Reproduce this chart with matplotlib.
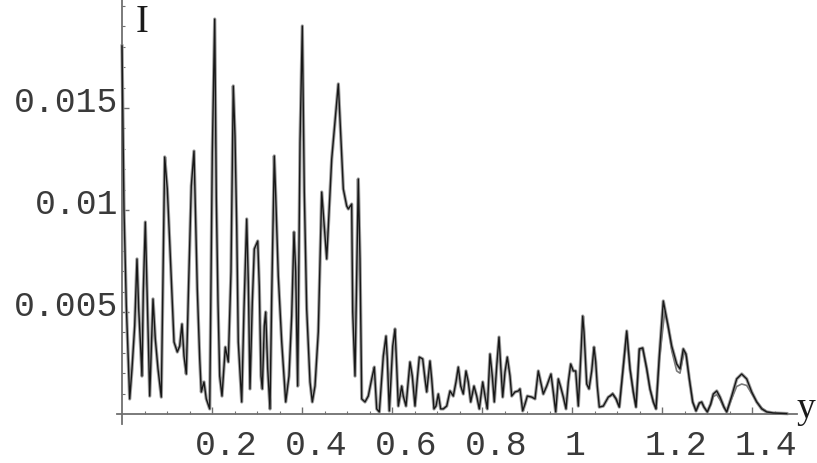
import matplotlib
matplotlib.use('Agg')
import matplotlib.pyplot as plt

# ---- data ----
y_main = [0.0000, 0.0044, 0.0096, 0.0171, 0.0222, 0.0282, 0.0333, 0.0371, 0.0416, 0.0444,
          0.0473, 0.0518, 0.0562, 0.0616, 0.0689, 0.0740, 0.0800, 0.0873, 0.0911, 0.0949,
          0.1007, 0.1060, 0.1111, 0.1156, 0.1229, 0.1282, 0.1333, 0.1378, 0.1429, 0.1482,
          0.1540, 0.1600, 0.1629, 0.1673, 0.1727, 0.1762, 0.1822, 0.1873, 0.1949, 0.2007,
          0.2060, 0.2096, 0.2133, 0.2171, 0.2222, 0.2296, 0.2362, 0.2422, 0.2473, 0.2511,
          0.2549, 0.2584, 0.2660, 0.2711, 0.2771, 0.2807, 0.2844, 0.2896, 0.2940, 0.3016,
          0.3051, 0.3089, 0.3118, 0.3162, 0.3193, 0.3238, 0.3289, 0.3327, 0.3384, 0.3416,
          0.3473, 0.3549, 0.3638, 0.3711, 0.3771, 0.3822, 0.3860, 0.3904, 0.3956, 0.4007,
          0.4051, 0.4104, 0.4178, 0.4229, 0.4289, 0.4362, 0.4438, 0.4549, 0.4660, 0.4807,
          0.4918, 0.4993, 0.5029, 0.5104, 0.5127, 0.5178, 0.5216, 0.5251, 0.5289, 0.5327,
          0.5400, 0.5473, 0.5549, 0.5607, 0.5660, 0.5718, 0.5807, 0.5867, 0.5896, 0.5940,
          0.6016, 0.6067, 0.6104, 0.6140, 0.6216, 0.6251, 0.6311, 0.6400, 0.6451, 0.6511,
          0.6562, 0.6607, 0.6682, 0.6733, 0.6771, 0.6844, 0.6882, 0.6933, 0.6978, 0.7029,
          0.7082, 0.7140, 0.7216, 0.7289, 0.7362, 0.7422, 0.7473, 0.7527, 0.7584, 0.7644,
          0.7696, 0.7749, 0.7822, 0.7882, 0.7940, 0.8016, 0.8067, 0.8118, 0.8178, 0.8229,
          0.8273, 0.8327, 0.8378, 0.8416, 0.8460, 0.8511, 0.8562, 0.8622, 0.8660, 0.8733,
          0.8807, 0.8844, 0.8904, 0.8956, 0.9007, 0.9104, 0.9178, 0.9251, 0.9304, 0.9362,
          0.9438, 0.9533, 0.9584, 0.9638, 0.9696, 0.9749, 0.9807, 0.9867, 0.9918, 0.9971,
          1.0029, 1.0082, 1.0140, 1.0193, 1.0238, 1.0267, 1.0327, 1.0378, 1.0438, 1.0489,
          1.0527, 1.0562, 1.0607, 1.0696, 1.0807, 1.0844, 1.0904, 1.0978, 1.1051, 1.1140,
          1.1216, 1.1289, 1.1362, 1.1422, 1.1496, 1.1571, 1.1660, 1.1733, 1.1807, 1.1867,
          1.1940, 1.2029, 1.2118, 1.2216, 1.2327, 1.2400, 1.2473, 1.2533, 1.2607, 1.2682,
          1.2756, 1.2829, 1.2882, 1.2933, 1.3007, 1.3082, 1.3140, 1.3216, 1.3289, 1.3378,
          1.3438, 1.3549, 1.3660, 1.3771, 1.3882, 1.3993, 1.4104, 1.4216, 1.4327, 1.4473,
          1.4771]
I_main = [0.01804, 0.01005, 0.00529, 0.00074, 0.00221, 0.00431, 0.00760, 0.00515, 0.00319, 0.00186,
          0.00598, 0.00941, 0.00564, 0.00088, 0.00564, 0.00368, 0.00221, 0.00083, 0.00676, 0.01260,
          0.01103, 0.00843, 0.00578, 0.00353, 0.00304, 0.00333, 0.00441, 0.00284, 0.00196, 0.00647,
          0.01118, 0.01289, 0.01020, 0.00613, 0.00270, 0.00108, 0.00157, 0.00074, 0.00025, 0.01284,
          0.01936, 0.01054, 0.00549, 0.00186, 0.00088, 0.00328, 0.00255, 0.00696, 0.01608, 0.01363,
          0.00922, 0.00353, 0.00059, 0.00515, 0.00956, 0.00647, 0.00123, 0.00549, 0.00809, 0.00848,
          0.00627, 0.00186, 0.00123, 0.00431, 0.00500, 0.00221, 0.00025, 0.00578, 0.01265, 0.01069,
          0.00676, 0.00353, 0.00059, 0.00186, 0.00480, 0.00892, 0.00696, 0.00137, 0.01333, 0.01902,
          0.01088, 0.00515, 0.00157, 0.00059, 0.00137, 0.00402, 0.01088, 0.00760, 0.01250, 0.01618,
          0.01103, 0.01020, 0.01005, 0.01029, 0.00500, 0.00186, 0.00696, 0.01152, 0.00760, 0.00074,
          0.00059, 0.00088, 0.00172, 0.00230, 0.00025, 0.00010, 0.00284, 0.00382, 0.00270, 0.00015,
          0.00333, 0.00417, 0.00235, 0.00039, 0.00137, 0.00088, 0.00039, 0.00255, 0.00186, 0.00039,
          0.00172, 0.00279, 0.00270, 0.00172, 0.00108, 0.00260, 0.00172, 0.00025, 0.00039, 0.00098,
          0.00025, 0.00025, 0.00039, 0.00113, 0.00088, 0.00157, 0.00230, 0.00137, 0.00098, 0.00211,
          0.00157, 0.00059, 0.00137, 0.00088, 0.00025, 0.00157, 0.00088, 0.00025, 0.00294, 0.00186,
          0.00059, 0.00235, 0.00377, 0.00235, 0.00083, 0.00206, 0.00279, 0.00186, 0.00088, 0.00108,
          0.00113, 0.00123, 0.00015, 0.00049, 0.00088, 0.00083, 0.00074, 0.00211, 0.00157, 0.00098,
          0.00137, 0.00196, 0.00108, 0.00010, 0.00172, 0.00132, 0.00083, 0.00025, 0.00157, 0.00245,
          0.00211, 0.00211, 0.00039, 0.00270, 0.00480, 0.00402, 0.00147, 0.00123, 0.00211, 0.00328,
          0.00255, 0.00137, 0.00034, 0.00039, 0.00083, 0.00088, 0.00098, 0.00074, 0.00034, 0.00235,
          0.00407, 0.00221, 0.00108, 0.00034, 0.00319, 0.00324, 0.00221, 0.00123, 0.00059, 0.00025,
          0.00284, 0.00554, 0.00451, 0.00333, 0.00245, 0.00221, 0.00319, 0.00294, 0.00172, 0.00059,
          0.00015, 0.00054, 0.00059, 0.00034, 0.00010, 0.00049, 0.00098, 0.00113, 0.00083, 0.00034,
          0.00010, 0.00088, 0.00172, 0.00196, 0.00172, 0.00108, 0.00059, 0.00025, 0.00010, 0.00005,
          0.00002]

# second (lighter) curve, visibly distinct only at large y
y_alt = [1.0844, 1.0904, 1.0978, 1.1051, 1.1140, 1.1216, 1.1289, 1.1362, 1.1422, 1.1496,
         1.1571, 1.1660, 1.1733, 1.1807, 1.1867, 1.1940, 1.2060, 1.2140, 1.2216, 1.2327,
         1.2400, 1.2490, 1.2550, 1.2607, 1.2682, 1.2756, 1.2829, 1.2882, 1.2933, 1.3007,
         1.3082, 1.3140, 1.3216, 1.3289, 1.3378, 1.3438, 1.3549, 1.3660, 1.3771, 1.3882,
         1.3993, 1.4104, 1.4216, 1.4327, 1.4473, 1.4771]
I_alt = [0.00088, 0.00103, 0.00078, 0.00034, 0.00225, 0.00395, 0.00221, 0.00108, 0.00034, 0.00310,
         0.00320, 0.00230, 0.00123, 0.00059, 0.00025, 0.00260, 0.00500, 0.00430, 0.00310, 0.00211,
         0.00200, 0.00305, 0.00280, 0.00172, 0.00059, 0.00015, 0.00050, 0.00055, 0.00034, 0.00010,
         0.00045, 0.00085, 0.00095, 0.00070, 0.00030, 0.00010, 0.00075, 0.00135, 0.00147, 0.00140,
         0.00100, 0.00062, 0.00030, 0.00012, 0.00005, 0.00002]

x_ticks = [0.2, 0.4, 0.6, 0.8, 1.0, 1.2, 1.4]
x_labels = ["0.2", "0.4", "0.6", "0.8", "1", "1.2", "1.4"]
y_ticks = [0.005, 0.01, 0.015]
y_labels = ["0.005", "0.01", "0.015"]

# ---- figure ----
W, H = 817, 464
fig = plt.figure(figsize=(W / 100, H / 100), dpi=100)
x0px, x1px = 117.5, 797.0
ytop, ybot = 0.9, 425.2
ax = fig.add_axes([x0px / W, 1 - ybot / H, (x1px - x0px) / W, (ybot - ytop) / H])
ax.set_xlim(-0.01, 1.50)
ax.set_ylim(-0.0005, 0.0203)

axis_col = '#707070'
ax.plot(y_main, I_main, color='#a0a0a0', lw=2.4, zorder=2)
ax.plot(y_alt, I_alt, color='#7a7a7a', lw=1.2, zorder=3)
ax.plot(y_main, I_main, color='#181818', lw=1.0, zorder=4)

for s in ['top', 'right']:
    ax.spines[s].set_visible(False)
ax.spines['left'].set_position(('data', 0))
ax.spines['bottom'].set_position(('data', 0))
for s in ['left', 'bottom']:
    ax.spines[s].set_color(axis_col)
    ax.spines[s].set_linewidth(1.3)

ax.set_xticks(x_ticks)
ax.set_xticks([0.05 * k for k in range(1, 30)], minor=True)
ax.set_yticks(y_ticks)
ax.set_yticks([0.001 * k for k in range(1, 21)], minor=True)
ax.tick_params(which='both', direction='in', color=axis_col, labelbottom=False, labelleft=False)
ax.tick_params(which='major', length=5, width=1)
ax.tick_params(which='minor', length=2.5, width=0.8)

mono = 'Liberation Mono'
lab_col = '#3a3a3a'
for v, t in zip(x_ticks, x_labels):
    dx = 3 if '.' not in t else 14
    ax.annotate(t, xy=(v, 0), xycoords='data', xytext=(dx, -30), textcoords='offset pixels',
                ha='center', va='center', family=mono, fontsize=25, color=lab_col)
for v, t in zip(y_ticks, y_labels):
    ax.annotate(t, xy=(0, v), xycoords='data', xytext=(-4, 7), textcoords='offset pixels',
                ha='right', va='center', family=mono, fontsize=25, color=lab_col)

fig.text(142 / W, 1 - 23 / H, 'I', family='Liberation Serif', fontsize=28,
         ha='center', va='center', color='#1a1a1a')
fig.text(806 / W, 1 - 418 / H, 'y', family='Liberation Serif', fontsize=27,
         ha='center', va='baseline', color='#1a1a1a')

fig.savefig('out.png', dpi=100, facecolor='white')
